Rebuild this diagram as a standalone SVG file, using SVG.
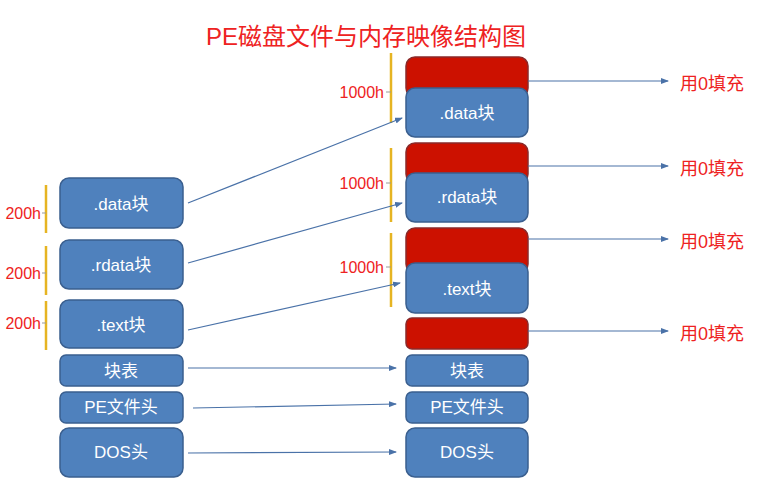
<svg xmlns="http://www.w3.org/2000/svg" width="768" height="485" viewBox="0 0 768 485">
<defs>
<marker id="ah" markerWidth="8" markerHeight="6" refX="7" refY="3" orient="auto" markerUnits="userSpaceOnUse">
<path d="M0,0 L8,3 L0,6 z" fill="#4a72a8"/>
</marker>
<style>
.blue{fill:#4f81bd;stroke:#3a5f8f;stroke-width:1.5}
.red{fill:#cc1100;stroke:#8a2a2a;stroke-width:1.5}
.bt{fill:#ffffff;font-family:"Liberation Sans","Noto Sans CJK SC",sans-serif;font-size:17px;text-anchor:middle;dominant-baseline:central}
.rt{fill:#ee2222;font-family:"Liberation Sans","Noto Sans CJK SC",sans-serif;font-size:18px;dominant-baseline:central}
.lab{fill:#ee2222;font-family:"Liberation Sans",sans-serif;font-size:16px;text-anchor:end;dominant-baseline:central}
.br{stroke:#e6b422;stroke-width:2.5;fill:none}
.tick{stroke:#999999;stroke-width:1;fill:none}
.con{stroke:#4a72a8;stroke-width:1.2;fill:none;marker-end:url(#ah)}
</style>
</defs>
<rect width="768" height="485" fill="#ffffff"/>
<text x="366" y="36" fill="#ee2222" font-family="Liberation Sans,'Noto Sans CJK SC',sans-serif" font-size="24" text-anchor="middle" dominant-baseline="central">PE磁盘文件与内存映像结构图</text>

<g id="left-data"><rect class="blue" x="60" y="178" width="123" height="50" rx="9"/><text class="bt" x="121" y="204">.data块</text></g>
<g id="left-rdata"><rect class="blue" x="60" y="240" width="123" height="49" rx="9"/><text class="bt" x="121" y="265">.rdata块</text></g>
<g id="left-text"><rect class="blue" x="60" y="300" width="123" height="48" rx="9"/><text class="bt" x="121" y="325">.text块</text></g>
<g id="left-table"><rect class="blue" x="60" y="355" width="123" height="31" rx="6"/><text class="bt" x="121" y="371">块表</text></g>
<g id="left-pe"><rect class="blue" x="60" y="392" width="123" height="31" rx="6"/><text class="bt" x="121" y="407">PE文件头</text></g>
<g id="left-dos"><rect class="blue" x="60" y="428" width="123" height="49" rx="9"/><text class="bt" x="121" y="452">DOS头</text></g>

<g id="left-brackets">
<line class="br" x1="46" y1="185" x2="46" y2="233"/><line class="tick" x1="42" y1="213" x2="46" y2="213"/><text class="lab" x="41" y="213">200h</text>
<line class="br" x1="46" y1="246" x2="46" y2="295"/><line class="tick" x1="42" y1="273" x2="46" y2="273"/><text class="lab" x="41" y="273">200h</text>
<line class="br" x1="46" y1="301" x2="46" y2="350"/><line class="tick" x1="42" y1="323" x2="46" y2="323"/><text class="lab" x="41" y="323">200h</text>
</g>

<g id="right-data"><rect class="red" x="406" y="57" width="122" height="40" rx="9"/><rect class="blue" x="406" y="88" width="122" height="49" rx="9"/><text class="bt" x="467" y="113">.data块</text></g>
<g id="right-rdata"><rect class="red" x="406" y="143" width="122" height="40" rx="9"/><rect class="blue" x="406" y="173" width="122" height="49" rx="9"/><text class="bt" x="467" y="197">.rdata块</text></g>
<g id="right-text"><rect class="red" x="406" y="228" width="122" height="45" rx="9"/><rect class="blue" x="406" y="263" width="122" height="50" rx="9"/><text class="bt" x="467" y="289">.text块</text></g>
<g id="right-pad"><rect class="red" x="406" y="318" width="122" height="31" rx="6"/></g>
<g id="right-table"><rect class="blue" x="406" y="355" width="122" height="31" rx="6"/><text class="bt" x="467" y="371">块表</text></g>
<g id="right-pe"><rect class="blue" x="406" y="392" width="122" height="31" rx="6"/><text class="bt" x="467" y="407">PE文件头</text></g>
<g id="right-dos"><rect class="blue" x="406" y="428" width="122" height="49" rx="9"/><text class="bt" x="467" y="452">DOS头</text></g>

<g id="right-brackets">
<line class="br" x1="391" y1="53" x2="391" y2="123"/><line class="tick" x1="386" y1="92" x2="391" y2="92"/><text class="lab" x="384" y="92">1000h</text>
<line class="br" x1="391" y1="148" x2="391" y2="222"/><line class="tick" x1="386" y1="183" x2="391" y2="183"/><text class="lab" x="384" y="183">1000h</text>
<line class="br" x1="391" y1="233" x2="391" y2="307"/><line class="tick" x1="386" y1="267" x2="391" y2="267"/><text class="lab" x="384" y="267">1000h</text>
</g>

<g id="fill-labels">
<text class="rt" x="680" y="84">用0填充</text>
<text class="rt" x="680" y="169">用0填充</text>
<text class="rt" x="680" y="242">用0填充</text>
<text class="rt" x="680" y="334">用0填充</text>
</g>

<g id="connectors">
<line class="con" x1="188" y1="203" x2="402" y2="118"/>
<line class="con" x1="188" y1="263" x2="402" y2="203"/>
<line class="con" x1="188" y1="330" x2="400" y2="283"/>
<line class="con" x1="188" y1="368" x2="396" y2="368"/>
<line class="con" x1="193" y1="408" x2="396" y2="404"/>
<line class="con" x1="188" y1="453" x2="396" y2="452"/>
<line class="con" x1="528" y1="81" x2="668" y2="81"/>
<line class="con" x1="528" y1="166" x2="668" y2="166"/>
<line class="con" x1="528" y1="239" x2="668" y2="239"/>
<line class="con" x1="528" y1="331" x2="668" y2="331"/>
</g>
</svg>
